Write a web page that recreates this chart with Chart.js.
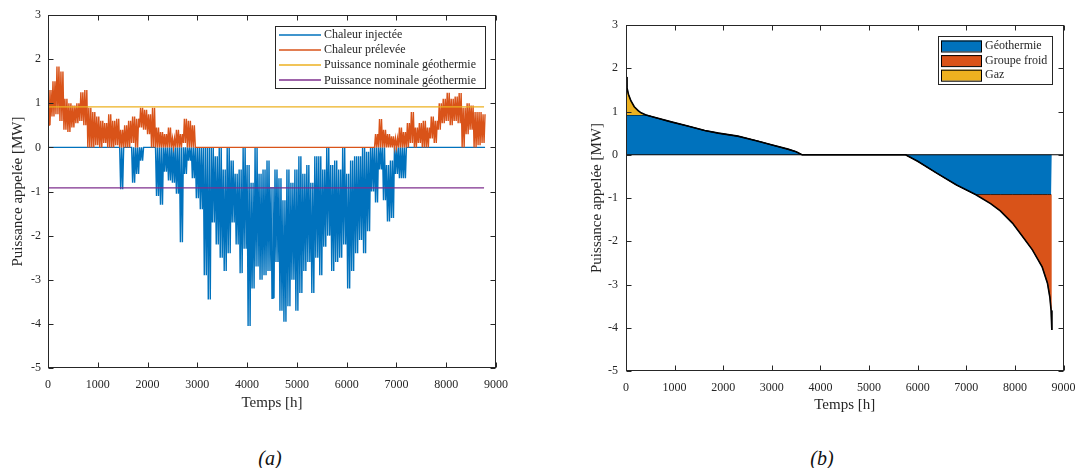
<!DOCTYPE html>
<html>
<head>
<meta charset="utf-8">
<script src="https://cdn.jsdelivr.net/npm/chart.js@4.4.0/dist/chart.umd.min.js"></script>
<style>
  body { margin: 0; background: #fff; width: 1078px; height: 468px; overflow: hidden; position: relative; }
  canvas { position: absolute; top: 0; }
  #chartA { left: 0; }
  #chartB { left: 560px; }
  .caption { position: absolute; top: 446px; font-family: "Liberation Serif", serif; font-style: italic; font-size: 20px; line-height: 24px; color: #111; transform: translateX(-50%); }
</style>
</head>
<body>
<canvas id="chartA" width="540" height="425"></canvas>
<canvas id="chartB" width="518" height="425"></canvas>
<div class="caption" style="left:270px">(a)</div>
<div class="caption" style="left:822px">(b)</div>
<script>
// (a) hourly profile, read per 80 h bin: peak and trough of each series
const hours = [
  0, 80, 160, 240, 320, 400, 480, 560, 640, 720,
  800, 880, 960, 1040, 1120, 1200, 1280, 1360, 1440, 1520,
  1600, 1680, 1760, 1840, 1920, 2000, 2080, 2160, 2240, 2320,
  2400, 2480, 2560, 2640, 2720, 2800, 2880, 2960, 3040, 3120,
  3200, 3280, 3360, 3440, 3520, 3600, 3680, 3760, 3840, 3920,
  4000, 4080, 4160, 4240, 4320, 4400, 4480, 4560, 4640, 4720,
  4800, 4880, 4960, 5040, 5120, 5200, 5280, 5360, 5440, 5520,
  5600, 5680, 5760, 5840, 5920, 6000, 6080, 6160, 6240, 6320,
  6400, 6480, 6560, 6640, 6720, 6800, 6880, 6960, 7040, 7120,
  7200, 7280, 7360, 7440, 7520, 7600, 7680, 7760, 7840, 7920,
  8000, 8080, 8160, 8240, 8320, 8400, 8480, 8560, 8640, 8720
];

const prelPeak = [
  1.30, 1.50, 1.83, 1.72, 1.10, 1.00, 0.95, 1.00, 1.25, 1.30,
  0.90, 0.80, 0.70, 0.60, 0.55, 0.75, 0.60, 0.65, 0.40, 0.50,
  0.60, 0.70, 0.65, 0.90, 0.85, 0.75, 0.90, 0.45, 0.35, 0.30,
  0.45, 0.20, 0.40, 0.30, 0.65, 0.60, 0.50, 0, 0, 0,
  0, 0, 0, 0, 0, 0, 0, 0, 0, 0,
  0, 0, 0, 0, 0, 0, 0, 0, 0, 0,
  0, 0, 0, 0, 0, 0, 0, 0, 0, 0,
  0, 0, 0, 0, 0, 0, 0, 0, 0, 0,
  0, 0, 0.30, 0.64, 0.40, 0.30, 0.25, 0.20, 0.45, 0.35,
  0.55, 0.80, 0.45, 0.55, 0.60, 0.45, 0.70, 0.60, 1.00, 1.10,
  1.24, 1.10, 1.15, 1.23, 0.90, 1.00, 0.95, 0.80, 0.80, 0.75
];

const prelLow = [
  0.50, 0.70, 0.75, 0.60, 0.40, 0.35, 0.45, 0.55, 0.60, 0.50,
  0, 0, 0.05, 0, 0.10, 0, 0, 0.05, 0, 0,
  0, 0.10, 0, 0.45, 0.40, 0.30, 0, 0, 0, 0,
  0, 0, 0, 0, 0.10, 0, 0, 0, 0, 0,
  0, 0, 0, 0, 0, 0, 0, 0, 0, 0,
  0, 0, 0, 0, 0, 0, 0, 0, 0, 0,
  0, 0, 0, 0, 0, 0, 0, 0, 0, 0,
  0, 0, 0, 0, 0, 0, 0, 0, 0, 0,
  0, 0, 0, 0, 0, 0, 0, 0, 0, 0,
  0, 0.10, 0, 0.10, 0, 0, 0.20, 0.10, 0.40, 0.55,
  0.60, 0.50, 0.60, 0.55, 0, 0.30, 0.40, 0, 0.05, 0.10
];

const injLow = [
  0, 0, 0, 0, 0, 0, 0, 0, 0, 0,
  0, 0, 0, 0, 0, 0, 0, 0, -0.95, 0,
  0, -0.80, -0.60, -0.30, 0, 0, 0, -1.10, -1.30, -0.55,
  -0.75, -0.80, -1.05, -2.15, -0.60, -0.30, -0.70, -1.15, -1.40, -2.90,
  -3.45, -1.70, -2.20, -2.50, -2.80, -2.40, -1.70, -2.20, -2.85, -2.30,
  -4.05, -3.20, -2.70, -3.00, -2.90, -2.80, -3.42, -2.60, -3.70, -3.95,
  -3.60, -3.00, -3.70, -3.30, -2.80, -2.60, -3.30, -2.50, -2.90, -2.25,
  -2.00, -2.80, -2.60, -2.50, -2.20, -3.20, -2.80, -2.40, -2.10, -2.40,
  -1.90, -1.00, -1.25, -0.50, -1.20, -1.68, -1.60, -0.60, -0.70, -0.70,
  0, 0, 0, 0, 0, 0, 0, 0, 0, 0,
  0, 0, 0, 0, 0, 0, 0, 0, 0, 0
];

const injHigh = [
  0, 0, 0, 0, 0, 0, 0, 0, 0, 0,
  0, 0, 0, 0, 0, 0, 0, 0, 0, 0,
  0, 0, 0, 0, 0, 0, 0, 0, 0, 0,
  0, 0, 0, 0, 0, 0, 0, 0, 0, 0,
  0, 0, -0.2, 0, -0.5, 0, -0.3, -0.6, -0.5, 0,
  -0.4, -0.8, 0, -0.6, -0.5, -0.3, -0.9, -0.5, -0.7, -1.2,
  -0.5, -0.8, -0.5, -0.2, -0.6, -0.4, -0.8, -0.2, -0.2, -0.5,
  0, -0.4, -0.3, -0.5, 0, -0.6, -0.3, -0.2, -0.2, 0,
  -0.1, 0, 0, 0, 0, -0.4, -0.3, 0, 0, 0,
  0, 0, 0, 0, 0, 0, 0, 0, 0, 0,
  0, 0, 0, 0, 0, 0, 0, 0, 0, 0
];

const nominalPower = 0.92;
const yearEnd = 8760;

// (b) sorted load duration curve
const durationHours = [
  0, 20, 50, 100, 170, 250, 310, 410, 600, 930,
  1250, 1620, 1900, 2300, 2700, 2990, 3330, 3500, 3620, 5750,
  6000, 6400, 6800, 7190, 7500, 7700, 7950, 8150, 8360, 8560,
  8670, 8720, 8745, 8760
];
const durationPower = [
  1.80, 1.55, 1.40, 1.25, 1.11, 1.02, 0.97, 0.92, 0.86, 0.76,
  0.67, 0.56, 0.50, 0.43, 0.32, 0.23, 0.13, 0.07, 0, 0,
  -0.15, -0.43, -0.70, -0.92, -1.13, -1.30, -1.58, -1.88, -2.20, -2.59,
  -2.97, -3.30, -3.60, -4.05
];

const COLORS = {
  BLUE: "#0072BD",
  ORANGE: "#D95319",
  YELLOW: "#EDB120",
  PURPLE: "#7E2F8E",
  AXIS: "#262626",
  TEXT: "#262626"
};
const FONT = "'Liberation Serif', 'Times New Roman', serif";

// each 80 h bin oscillates twice between its two read values (hourly data look)
function zigzag(first, second) {
  const pts = [];
  hours.forEach((h, i) => {
    pts.push({ x: h, y: first[i] });
    pts.push({ x: h + 20, y: second[i] });
    pts.push({ x: h + 40, y: first[i] });
    pts.push({ x: h + 60, y: second[i] });
  });
  pts.push({ x: yearEnd, y: first[first.length - 1] });
  return pts;
}

// MATLAB-like box, inward ticks on four sides, legend inside the axes
const matlabFrame = {
  id: "matlabFrame",
  afterDatasetsDraw(chart, args, opts) {
    const { ctx, chartArea: a, scales } = chart;
    const L = Math.round(a.left) + 0.5, R = Math.round(a.right) - 0.5;
    const T = Math.round(a.top) + 0.5, B = Math.round(a.bottom) - 0.5;
    ctx.save();
    ctx.strokeStyle = COLORS.AXIS;
    ctx.lineWidth = 1;
    ctx.strokeRect(L, T, R - L, B - T);
    ctx.beginPath();
    scales.x.ticks.forEach((t) => {
      const px = Math.round(scales.x.getPixelForValue(t.value)) + 0.5;
      ctx.moveTo(px, B); ctx.lineTo(px, B - 5);
      ctx.moveTo(px, T); ctx.lineTo(px, T + 5);
    });
    scales.y.ticks.forEach((t) => {
      const py = Math.round(scales.y.getPixelForValue(t.value)) + 0.5;
      ctx.moveTo(L, py); ctx.lineTo(L + 5, py);
      ctx.moveTo(R, py); ctx.lineTo(R - 5, py);
    });
    ctx.stroke();

    const lg = opts.legend;
    if (lg) {
      ctx.fillStyle = "#fff";
      ctx.fillRect(lg.x, lg.y, lg.w, lg.h);
      ctx.strokeStyle = COLORS.AXIS;
      ctx.strokeRect(lg.x + 0.5, lg.y + 0.5, lg.w, lg.h);
      ctx.font = "12px " + FONT;
      ctx.textBaseline = "middle";
      lg.items.forEach((item, i) => {
        const cy = lg.y + lg.first + i * lg.step;
        if (lg.kind === "line") {
          ctx.strokeStyle = item.color;
          ctx.lineWidth = 1.5;
          ctx.beginPath();
          ctx.moveTo(lg.x + 4, Math.round(cy));
          ctx.lineTo(lg.x + 46, Math.round(cy));
          ctx.stroke();
        } else {
          ctx.fillStyle = item.color;
          ctx.fillRect(lg.x + 3, cy - 5.5, 41, 11);
          ctx.strokeStyle = "#000";
          ctx.lineWidth = 1;
          ctx.strokeRect(lg.x + 3.5, cy - 5, 40, 11);
        }
        ctx.fillStyle = COLORS.TEXT;
        ctx.fillText(item.label, lg.x + lg.textX, cy);
      });
    }
    ctx.restore();
  }
};

function scaleOptions(cfg) {
  return {
    x: {
      type: "linear",
      min: 0,
      max: 9000,
      ticks: {
        stepSize: 1000,
        padding: 10,
        color: COLORS.TEXT,
        font: { family: FONT, size: 12 },
        maxRotation: 0,
        autoSkip: false,
        callback: (v) => String(v)
      },
      grid: { display: false, drawTicks: false },
      border: { display: false },
      title: {
        display: true,
        text: "Temps [h]",
        color: COLORS.TEXT,
        font: { family: FONT, size: 15 },
        padding: { top: 0, bottom: cfg.xTitlePad }
      },
      afterFit: (s) => {
        s.height = 50;
        s.paddingLeft = 0;
        s.paddingRight = 0;
      }
    },
    y: {
      type: "linear",
      min: -5,
      max: 3,
      ticks: {
        stepSize: 1,
        padding: cfg.yTickPad,
        color: COLORS.TEXT,
        font: { family: FONT, size: 12 },
        callback: (v) => String(v)
      },
      grid: { display: false, drawTicks: false },
      border: { display: false },
      title: {
        display: true,
        text: "Puissance appelée [MW]",
        color: COLORS.TEXT,
        font: { family: FONT, size: 15 },
        padding: { top: cfg.yTitlePad, bottom: 0 }
      },
      afterFit: (s) => {
        s.width = cfg.yWidth;
        s.paddingTop = 0;
        s.paddingBottom = 0;
      }
    }
  };
}

const baseOptions = {
  responsive: false,
  animation: false,
  events: [],
  parsing: false,
  normalized: true,
  elements: { point: { radius: 0 }, line: { tension: 0 } }
};

new Chart(document.getElementById("chartA").getContext("2d"), {
  type: "line",
  data: {
    datasets: [
      {
        label: "Puissance nominale géothermie",
        data: [{ x: 0, y: nominalPower }, { x: yearEnd, y: nominalPower }],
        borderColor: COLORS.YELLOW,
        borderWidth: 1.2,
        order: 0
      },
      {
        label: "Puissance nominale géothermie",
        data: [{ x: 0, y: -nominalPower }, { x: yearEnd, y: -nominalPower }],
        borderColor: COLORS.PURPLE,
        borderWidth: 1.2,
        order: 1
      },
      {
        label: "Chaleur prélevée",
        data: zigzag(prelLow, prelPeak),
        borderColor: COLORS.ORANGE,
        borderWidth: 1.4,
        order: 2
      },
      {
        label: "Chaleur injectée",
        data: zigzag(injHigh, injLow),
        borderColor: COLORS.BLUE,
        borderWidth: 1.4,
        order: 3
      }
    ]
  },
  options: {
    ...baseOptions,
    layout: { padding: { left: 0, top: 15, right: 44, bottom: 7 } },
    plugins: {
      legend: { display: false },
      tooltip: { enabled: false },
      matlabFrame: {
        legend: {
          kind: "line", x: 275, y: 26, w: 210, h: 62, first: 8.5, step: 15.3, textX: 49,
          items: [
            { label: "Chaleur injectée", color: COLORS.BLUE },
            { label: "Chaleur prélevée", color: COLORS.ORANGE },
            { label: "Puissance nominale géothermie", color: COLORS.YELLOW },
            { label: "Puissance nominale géothermie", color: COLORS.PURPLE }
          ]
        }
      }
    },
    scales: scaleOptions({ xTitlePad: 6, yTickPad: 7, yTitlePad: 9, yWidth: 48 })
  },
  plugins: [matlabFrame]
});

const curvePts = durationHours.map((h, i) => ({ x: h, y: durationPower[i] }));
const geoPts = curvePts.map((p) => ({ x: p.x, y: Math.max(-nominalPower, Math.min(nominalPower, p.y)) }));
const gazPts = curvePts.map((p) => ({ x: p.x, y: Math.max(p.y, Math.min(nominalPower, Math.max(-nominalPower, p.y))) }));
const froidPts = curvePts.map((p) => ({ x: p.x, y: Math.min(p.y, Math.max(-nominalPower, Math.min(nominalPower, p.y))) }));

new Chart(document.getElementById("chartB").getContext("2d"), {
  type: "line",
  data: {
    datasets: [
      {
        label: "Géothermie",
        data: geoPts,
        borderColor: "#000",
        borderWidth: 0.6,
        backgroundColor: COLORS.BLUE,
        fill: "origin",
        order: 5
      },
      {
        label: "Groupe froid",
        data: froidPts,
        borderColor: "#000",
        borderWidth: 0.6,
        backgroundColor: COLORS.ORANGE,
        fill: { target: 0 },
        order: 4
      },
      {
        label: "Gaz",
        data: gazPts,
        borderColor: "#000",
        borderWidth: 0.6,
        backgroundColor: COLORS.YELLOW,
        fill: { target: 0 },
        order: 3
      },
      {
        label: "baseline",
        data: [{ x: 0, y: 0 }, { x: 9000, y: 0 }],
        borderColor: "#000",
        borderWidth: 1,
        order: 2
      },
      {
        label: "Demande",
        data: curvePts,
        borderColor: "#000",
        borderWidth: 1.6,
        order: 1
      }
    ]
  },
  options: {
    ...baseOptions,
    layout: { padding: { left: 0, top: 25, right: 14.5, bottom: 4 } },
    plugins: {
      legend: { display: false },
      tooltip: { enabled: false },
      filler: { propagate: false },
      matlabFrame: {
        legend: {
          kind: "patch", x: 378, y: 36, w: 114, h: 48, first: 10, step: 14.6, textX: 47,
          items: [
            { label: "Géothermie", color: COLORS.BLUE },
            { label: "Groupe froid", color: COLORS.ORANGE },
            { label: "Gaz", color: COLORS.YELLOW }
          ]
        }
      }
    },
    scales: scaleOptions({ xTitlePad: 7, yTickPad: 8, yTitlePad: 28, yWidth: 66 })
  },
  plugins: [matlabFrame]
});
</script>
</body>
</html>
